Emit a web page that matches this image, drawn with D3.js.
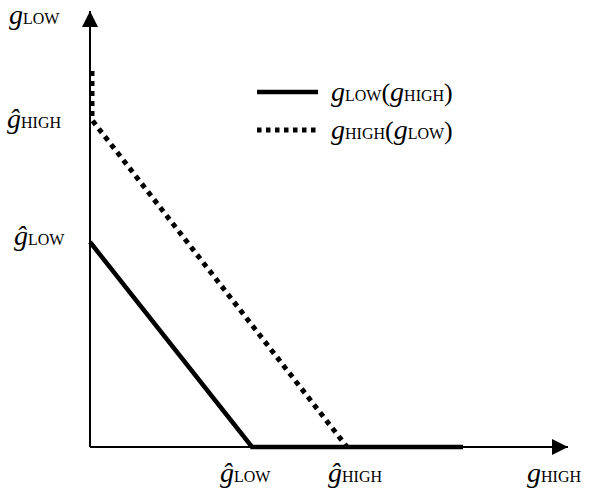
<!DOCTYPE html>
<html>
<head>
<meta charset="utf-8">
<script src="https://cdn.jsdelivr.net/npm/d3@7"></script>
<style>
  body { margin: 0; background: #fff; }
  text { font-family: "Liberation Serif", "Times New Roman", serif; fill: #000; }
</style>
</head>
<body>
<div id="chart"></div>
<script>
// values (arbitrary units, origin at the axes corner)
const gHatLowX = 16.2, gHatHighX = 25.7;
const gHatLowY = 20.5, gHatHighY = 32.7;
const lowOfHigh = [[0, gHatLowY], [gHatLowX, 0], [37.3, 0]];        // solid
const highOfLow = [[0.2, 37.6], [0.2, gHatHighY], [gHatHighX, 0]];  // dotted
const legendNames = [["LOW", "HIGH"], ["HIGH", "LOW"]];

const width = 591, height = 489;

const x = d3.scaleLinear().domain([0, 48]).range([90, 570]);
const y = d3.scaleLinear().domain([0, 44]).range([447, 7]);

const svg = d3.select("#chart").append("svg")
  .attr("width", width)
  .attr("height", height);

svg.append("defs").append("marker")
  .attr("id", "arrow")
  .attr("viewBox", "0 0 10 10")
  .attr("refX", 10).attr("refY", 5)
  .attr("markerWidth", 8).attr("markerHeight", 8)
  .attr("markerUnits", "strokeWidth")
  .attr("orient", "auto")
  .append("path").attr("d", "M0,0 L10,5 L0,10 Z").attr("fill", "#000");

const line = d3.line().x(d => x(d[0])).y(d => y(d[1]));

// axes
svg.append("path").attr("d", line([[0, 0], [47.8, 0]]))
  .attr("stroke", "#000").attr("stroke-width", 2).attr("fill", "none")
  .attr("marker-end", "url(#arrow)");
svg.append("path").attr("d", line([[0, 0], [0, 43.6]]))
  .attr("stroke", "#000").attr("stroke-width", 2).attr("fill", "none")
  .attr("marker-end", "url(#arrow)");

// curves
svg.append("path").attr("d", line(lowOfHigh))
  .attr("stroke", "#000").attr("stroke-width", 4.5).attr("fill", "none");
svg.append("path").attr("d", line(highOfLow))
  .attr("stroke", "#000").attr("stroke-width", 5).attr("fill", "none")
  .attr("stroke-dasharray", "5,5");

// g + subscript label helper
function label(sel, hat, sub, xp, yp) {
  const t = sel.append("text").attr("x", xp).attr("y", yp);
  t.append("tspan").attr("font-style", "italic").attr("font-size", 28).text(hat ? "ĝ" : "g");
  t.append("tspan").attr("font-size", 16).text(sub);
  return t;
}

label(svg, false, "LOW", 9, 24);
label(svg, true, "HIGH", 7, 128);
label(svg, true, "LOW", 14, 245);
label(svg, true, "LOW", x(gHatLowX) - 32, 482);
label(svg, true, "HIGH", x(gHatHighX) - 19, 482);
label(svg, false, "HIGH", 527, 482);

// legend
const legend = svg.append("g");
legendNames.forEach((n, i) => {
  const ly = 92 + i * 38;
  legend.append("line")
    .attr("x1", 257).attr("x2", 318).attr("y1", ly).attr("y2", ly)
    .attr("stroke", "#000")
    .attr("stroke-width", i === 0 ? 4.5 : 5)
    .attr("stroke-dasharray", i === 0 ? null : "4.5,4.5");
  const t = legend.append("text").attr("x", 331).attr("y", ly + 9);
  t.append("tspan").attr("font-style", "italic").attr("font-size", 28).text("g");
  t.append("tspan").attr("font-size", 16).text(n[0]);
  t.append("tspan").attr("font-size", 26).text("(");
  t.append("tspan").attr("font-style", "italic").attr("font-size", 28).text("g");
  t.append("tspan").attr("font-size", 16).text(n[1]);
  t.append("tspan").attr("font-size", 26).text(")");
});
</script>
</body>
</html>
